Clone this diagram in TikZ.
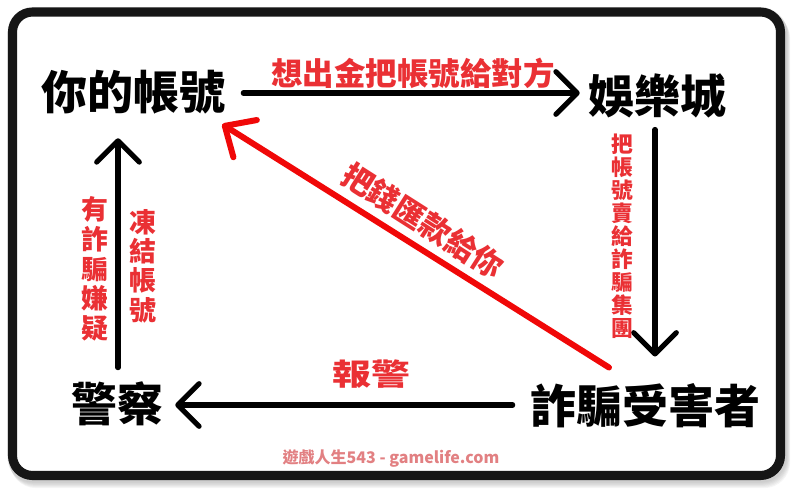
\documentclass[tikz,border=0pt]{standalone}
\usepackage{fontspec}
\newfontfamily\cjk{Noto Sans CJK TC}
\usetikzlibrary{arrows.meta,calc}
\definecolor{labred}{RGB}{234,48,52}
\definecolor{linered}{RGB}{240,8,8}
\definecolor{wmred}{RGB}{226,128,130}
\definecolor{frame}{RGB}{22,22,22}
\begin{document}
\begin{tikzpicture}[x=0.75pt,y=-0.75pt,
  main/.style={font=\cjk\bfseries\fontsize{34.5pt}{40pt}\selectfont, inner sep=0pt},
  redlbl/.style={text=labred, inner sep=0pt, align=center},
  blackarrow/.style={line width=3.8pt, line cap=round, line join=round,
    -{Straight Barb[length=16pt,width=32pt,round]}},
  redarrow/.style={line width=4.5pt, draw=linered, line cap=round, line join=round,
    -{Straight Barb[length=18pt,width=33pt,round]}}]
\useasboundingbox (0,0) rectangle (800,495);
% shadow
\foreach \i in {1,...,6}{
  \draw[line width=9pt, gray, opacity=0.08, rounded corners=15pt]
    ($(12.5,12)+(\i*0.6,\i*1.1)$) rectangle ($(780.5,475.5)+(\i*0.6,\i*1.1)$);
}
\fill[white, rounded corners=15pt] (12.5,12) rectangle (780.5,475.5);
\draw[line width=6.8pt, frame, rounded corners=15pt] (12.5,12) rectangle (780.5,475.5);

% main nodes
\node[main] (acct) at (133,92) {你的帳號};
\node[main] (casino) at (657,96) {娛樂城};
\node[main] (police) at (117,404) {警察};
\node[main] (victim) at (645,406) {詐騙受害者};

% connectors
\draw[blackarrow] ($(acct.east)+(18,1)$) -- ($(casino.west)+(-8,-3)$);
\draw[blackarrow] ($(casino.south)+(-2,11)$) -- ($(victim.north)+(10,-27)$);
\draw[blackarrow] ($(victim.west)+(-17,-1)$) -- ($(police.east)+(12,1)$);
\draw[blackarrow] ($(police.north)+(1,-14)$) -- ($(acct.south)+(-15,24)$);
\draw[redarrow] ($(victim.north)+(-36,-16)$) -- ($(acct.south east)+(-3,10)$);

% labels
\node[redlbl, font=\cjk\bfseries\fontsize{23.6pt}{26pt}\selectfont] (l1) at (413,73) {想出金把帳號給對方};
\node[redlbl, font=\cjk\bfseries\fontsize{16.3pt}{17.25pt}\selectfont] (l2) at (622,236)
  {把\\帳\\號\\賣\\給\\詐\\騙\\集\\團};
\node[redlbl, font=\cjk\bfseries\fontsize{22.5pt}{26pt}\selectfont, xscale=1.3] (l3) at (371,374) {報警};
\node[redlbl, font=\cjk\bfseries\fontsize{20.2pt}{22.2pt}\selectfont] (l4) at (95,269)
  {有\\詐\\騙\\嫌\\疑};
\node[redlbl, font=\cjk\bfseries\fontsize{20.2pt}{22pt}\selectfont] (l5) at (143,266)
  {凍\\結\\帳\\號};
\node[redlbl, font=\cjk\bfseries\fontsize{23pt}{26pt}\selectfont, rotate=-32.5] (l6) at (423,221) {把錢匯款給你};

% watermark
\node[text=wmred, inner sep=0pt, font=\cjk\bfseries\fontsize{12pt}{14pt}\selectfont] (wm) at (391,459) {遊戲人生543 - gamelife.com};
\end{tikzpicture}
\end{document}
